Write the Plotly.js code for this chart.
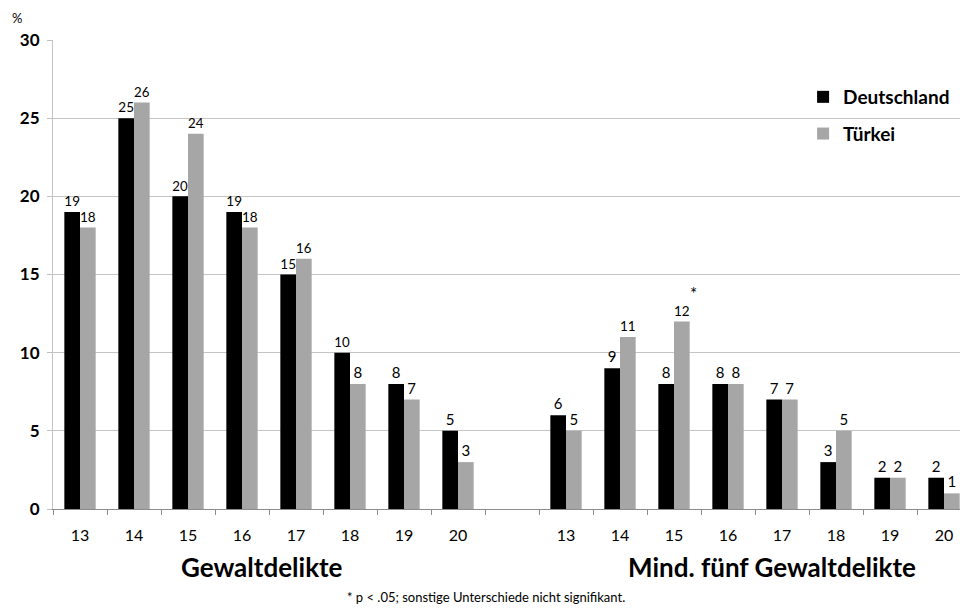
<!DOCTYPE html>
<html>
<head>
<meta charset="utf-8">
<script src="https://cdn.plot.ly/plotly-3.0.1.min.js"></script>
<style>html,body{margin:0;padding:0;background:#fff;}#chart{width:960px;height:610px;}</style>
</head>
<body>
<div id="chart"></div>
<script>
const ages = ["13","14","15","16","17","18","19","20"];
const groupNames = ["Gewaltdelikte", "Mind. fünf Gewaltdelikte"];
const seriesNames = ["Deutschland", "Türkei"];
const deGewalt = [19, 25, 20, 19, 15, 10, 8, 5];
const trGewalt = [18, 26, 24, 18, 16, 8, 7, 3];
const deMind5 = [6, 9, 8, 8, 7, 3, 2, 2];
const trMind5 = [5, 11, 12, 8, 7, 5, 2, 1];
const yTicks = [0, 5, 10, 15, 20, 25, 30];
const footnote = "* p < .05; sonstige Unterschiede nicht signifikant.";
const starIndex = 2; // Türkei, 15, Mind. fünf Gewaltdelikte

const n = ages.length;
const gapSlot = 1;
const xs1 = ages.map((a, i) => i);
const xs2 = ages.map((a, i) => i + n + gapSlot);
const xAll = xs1.concat(xs2);
const tickText = ages.concat(ages);
const deAll = deGewalt.concat(deMind5);
const trAll = trGewalt.concat(trMind5);
const totalSlots = 2 * n + gapSlot;
const boundaries = [];
for (let i = 0; i <= totalSlots; i++) boundaries.push(i - 0.5);

const FONT = "Lato, 'Open Sans', sans-serif";
const xRange = [-0.5, totalSlots - 0.5 - 11 / 54];

const traces = [
  {
    type: "bar", name: seriesNames[0], x: xAll, y: deAll,
    marker: {color: "#000000"},
    text: deAll.map(String), textposition: "outside", cliponaxis: false,
    textfont: {family: FONT, size: 15, color: "#000"},
    legendgroup: "a", hoverinfo: "x+y"
  },
  {
    type: "bar", name: seriesNames[1], x: xAll, y: trAll,
    marker: {color: "#a6a6a6"},
    text: trAll.map(String), textposition: "outside", cliponaxis: false,
    textfont: {family: FONT, size: 15, color: "#000"},
    legendgroup: "b", hoverinfo: "x+y"
  },
  {
    type: "scatter", mode: "markers", x: boundaries, y: boundaries.map(() => 0),
    xaxis: "x2", yaxis: "y", marker: {opacity: 0}, showlegend: false, hoverinfo: "skip"
  }
];

const layout = {
  width: 960, height: 610,
  margin: {l: 53, r: 0, t: 40, b: 101},
  paper_bgcolor: "#ffffff", plot_bgcolor: "#ffffff",
  font: {family: FONT, color: "#000"},
  barmode: "group", bargap: 0.42, bargroupgap: 0,
  showlegend: true,
  legend: {
    x: 0.827, y: 0.919, xanchor: "left", yanchor: "top",
    font: {family: FONT, size: 19, color: "#000", weight: "bold"},
    tracegroupgap: 9, bgcolor: "rgba(0,0,0,0)", traceorder: "grouped"
  },
  xaxis: {
    range: xRange, tickmode: "array", tickvals: xAll, ticktext: tickText,
    ticks: "", showgrid: false, zeroline: false, showline: true,
    linecolor: "#8c8c8c", linewidth: 1, ticklabelstandoff: 12,
    tickfont: {family: FONT, size: 16, color: "#000"}, fixedrange: true
  },
  xaxis2: {
    overlaying: "x", range: xRange, tickmode: "array", tickvals: boundaries,
    ticks: "outside", ticklen: 5, tickcolor: "#8c8c8c", showticklabels: false,
    showgrid: false, zeroline: false, showline: false, side: "bottom", anchor: "y"
  },
  yaxis: {
    range: [0, 30], tickmode: "array", tickvals: yTicks,
    ticks: "outside", ticklen: 5, tickcolor: "#bfbfbf",
    showgrid: true, gridcolor: "#c4c4c4", gridwidth: 1,
    zeroline: false, showline: true, linecolor: "#c4c4c4", ticklabelstandoff: 4,
    tickfont: {family: FONT, size: 17, color: "#000", weight: "bold"}, fixedrange: true
  },
  annotations: [
    {xref: "paper", yref: "paper", x: -0.04, y: 1.025, xanchor: "center", yanchor: "bottom",
     text: "%", showarrow: false, font: {family: FONT, size: 13, color: "#000"}},
    {xref: "x", yref: "paper", x: (xs1[0] + xs1[n - 1]) / 2, y: 0, yshift: -58, xshift: -7,
     xanchor: "center", yanchor: "middle", text: groupNames[0], showarrow: false,
     font: {family: FONT, size: 26, color: "#000", weight: "bold"}},
    {xref: "x", yref: "paper", x: (xs2[0] + xs2[n - 1]) / 2, y: 0, yshift: -58, xshift: 17,
     xanchor: "center", yanchor: "middle", text: groupNames[1], showarrow: false,
     font: {family: FONT, size: 26, color: "#000", weight: "bold"}},
    {xref: "paper", yref: "paper", x: (486 - 53) / 907, y: 0, yshift: -88,
     xanchor: "center", yanchor: "middle", text: footnote, showarrow: false,
     font: {family: FONT, size: 13, color: "#000"}},
    {xref: "x", yref: "y", x: xs2[starIndex], y: trMind5[starIndex], xshift: 19, yshift: 28,
     xanchor: "center", yanchor: "middle", text: "*", showarrow: false,
     font: {family: FONT, size: 17, color: "#000"}}
  ]
};

Plotly.newPlot("chart", traces, layout, {displayModeBar: false, staticPlot: true});
</script>
</body>
</html>
